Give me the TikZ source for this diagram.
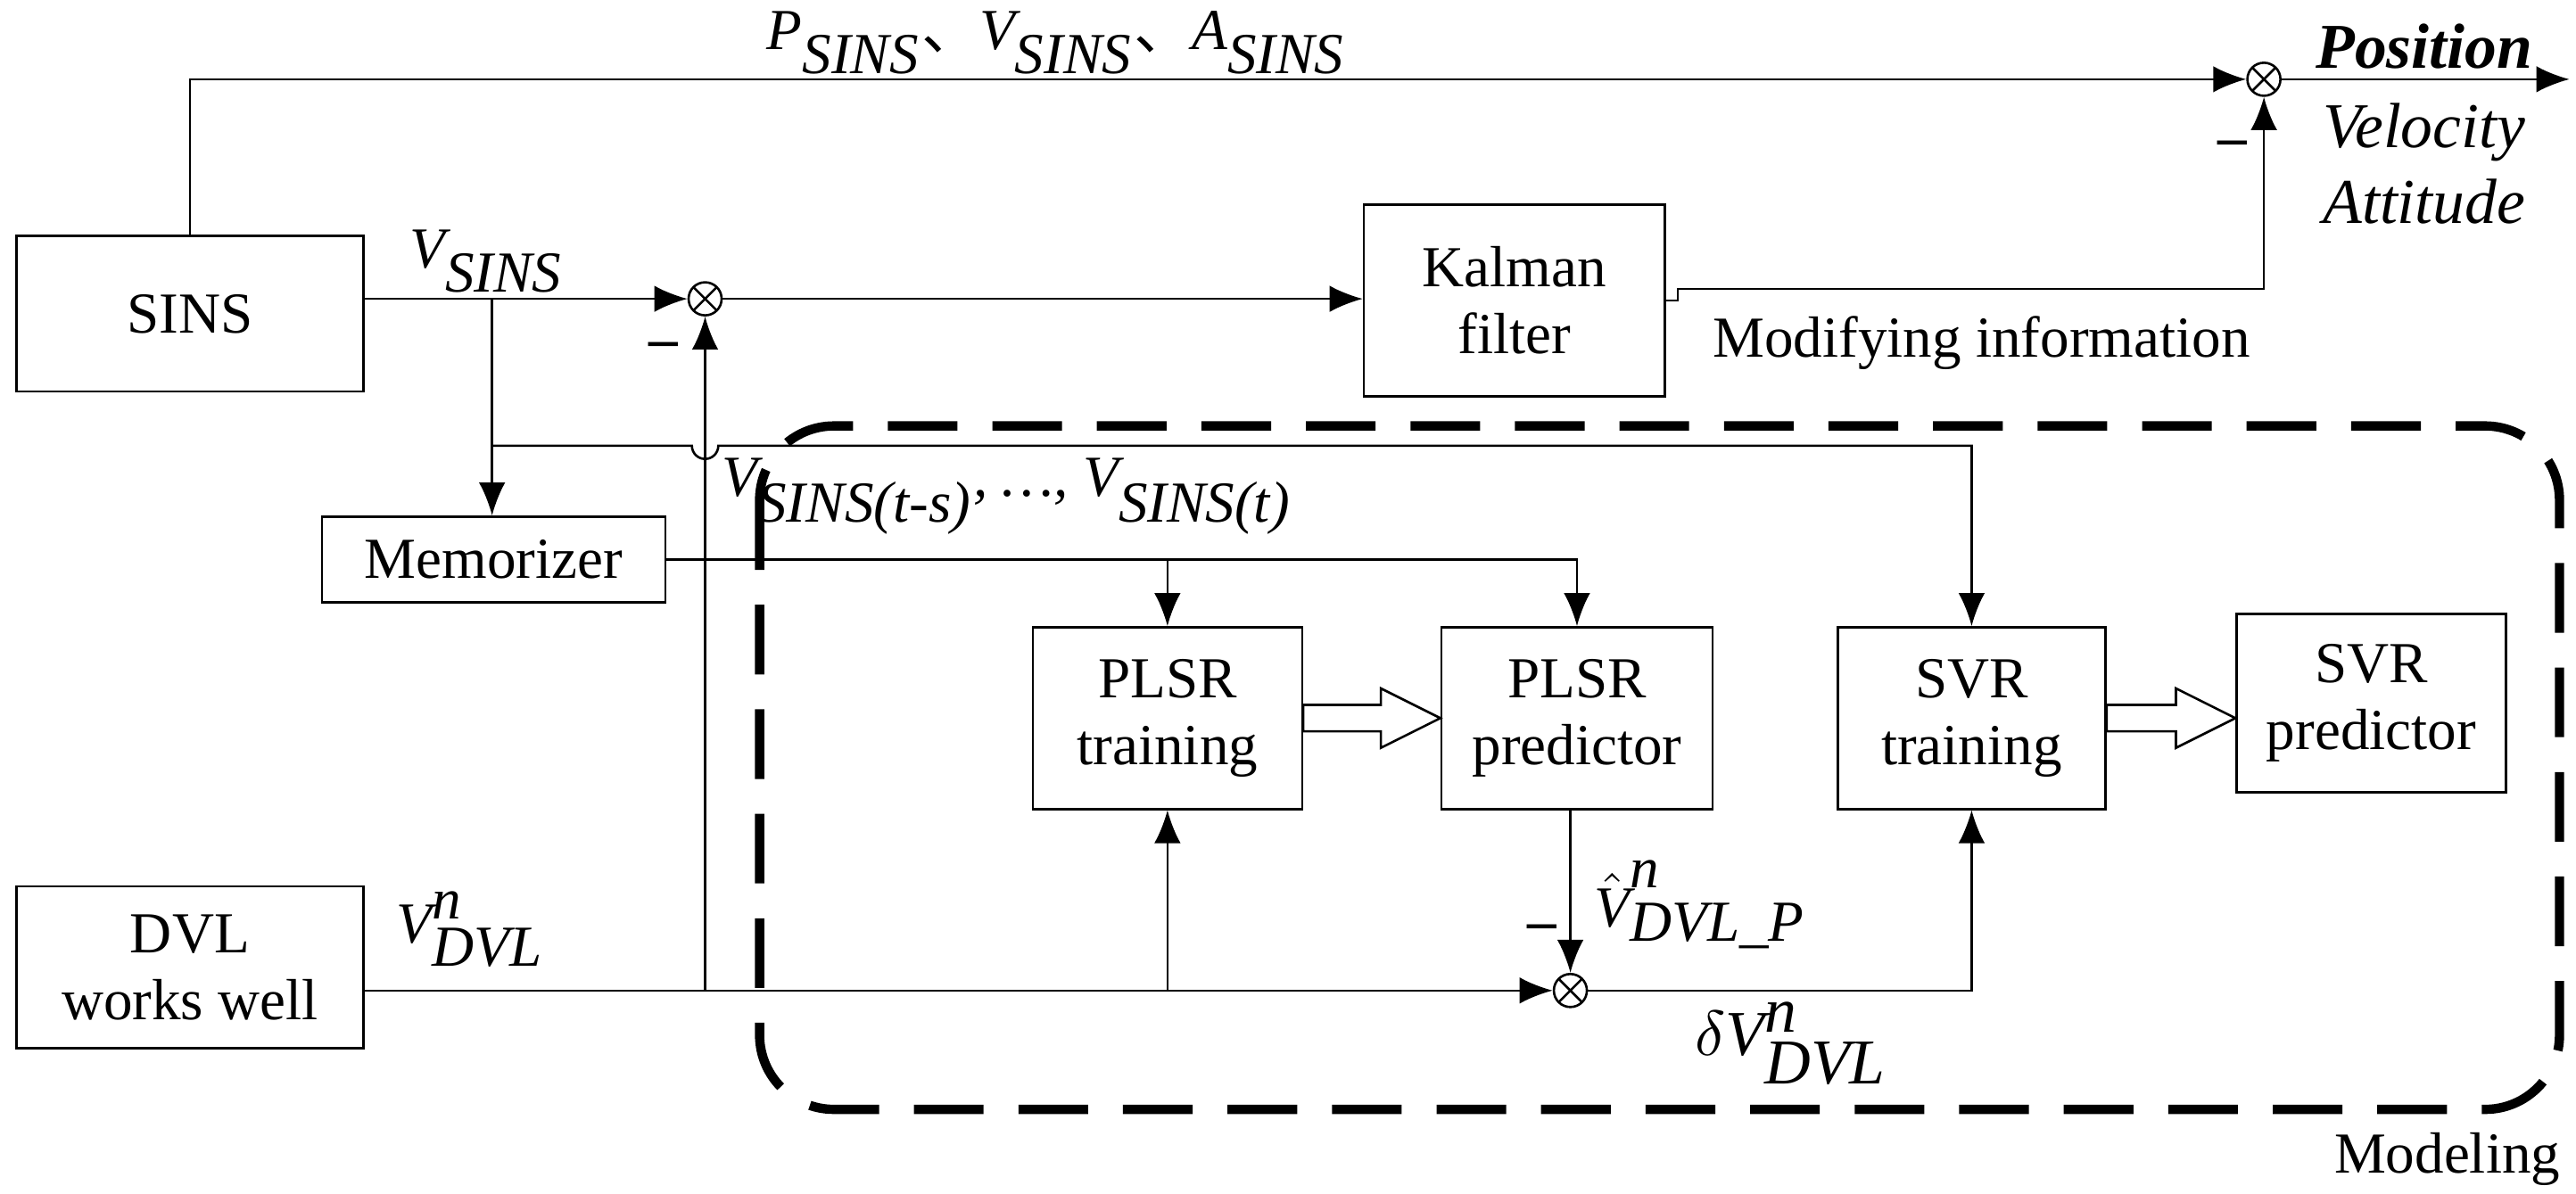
\documentclass[tikz,border=0pt]{standalone}
\usepackage{fontspec}
\setmainfont{Liberation Serif}
\newfontfamily\cjk{Noto Sans CJK SC}
\usetikzlibrary{arrows.meta}
\newcommand{\vsub}[3]{$\textit{#1}^{\textit{#2}}_{\textit{#3}}$}
\begin{document}
\begin{tikzpicture}[x=0.01cm,y=-0.01cm,font=\fontsize{10}{11.5}\selectfont,
    box/.style={draw, align=center, inner sep=0pt},
    sum/.style={draw, circle, minimum size=0.2cm, inner sep=0pt,
        path picture={\draw (path picture bounding box.south west) -- (path picture bounding box.north east)
        (path picture bounding box.north west) -- (path picture bounding box.south east);}},
    arr/.style={-{Latex[length=2mm,width=1.6mm]}},
    lbl/.style={font=\fontsize{10}{11.5}\selectfont\itshape}]
    \useasboundingbox (0,0) rectangle (1560,723);
    %Blöcke
    \node[box, minimum width=2.1cm, minimum height=0.94cm] (sins) at (115,190) {SINS};
    \node[box, minimum width=2.1cm, minimum height=0.98cm] (dvl) at (115,586) {DVL\\works well};
    \node[box, minimum width=2.08cm, minimum height=0.52cm] (mem) at (299,339) {Memorizer};
    \node[box, minimum width=1.82cm, minimum height=1.16cm] (kal) at (917,182) {Kalman\\filter};
    \node[box, minimum width=1.63cm, minimum height=1.1cm] (plt) at (707,435) {PLSR\\training};
    \node[box, minimum width=1.64cm, minimum height=1.1cm] (plp) at (955,435) {PLSR\\predictor};
    \node[box, minimum width=1.62cm, minimum height=1.1cm] (svt) at (1194,435) {SVR\\training};
    \node[box, minimum width=1.63cm, minimum height=1.08cm] (svp) at (1436,426) {SVR\\predictor};
    \node[sum] (s1) at (427,181) {};
    \node[sum] (s2) at (951,600) {};
    \node[sum] (s3) at (1371,48) {};
    %Modellierung
    \draw[dashed, line width=1.6pt, dash pattern=on 12pt off 6pt, rounded corners=0.45cm] (460,258) rectangle (1550,672);
    \node (mod) at (1482,702) {Modeling};
    %SINS
    \coordinate (top) at (115,48);
    \draw[arr] (sins.north) -- (top) -- (s3.west);
    \node[lbl] at (640,26) {\vsub{P}{}{SINS}{\cjk 、}\vsub{V}{}{SINS}{\cjk 、}\vsub{A}{}{SINS}};
    \coordinate (out) at (1556,48);
    \draw[arr] (s3.east) -- (out);
    \node[lbl, font=\fontsize{11}{13}\selectfont\bfseries\itshape] at (1468,28) {Position};
    \node[lbl, font=\fontsize{11}{13}\selectfont\itshape] at (1468,80) {Velocity};
    \node[lbl, font=\fontsize{11}{13}\selectfont\itshape] at (1468,122) {Attitude};
    \draw[arr] (sins.east |- s1) -- (s1.west);
    \node[lbl] at (295,158) {\vsub{V}{}{SINS}};
    \draw[arr] (s1.east) -- (kal.west |- s1);
    \coordinate (kr) at (1016,182);
    \draw[arr] (kal.east) -- (kr) -- (1016,175) -| (s3.south);
    \node at (1200,208) {Modifying information};
    \node at (1352,90) {\textbf{--}};
    %Abzweig SINS
    \coordinate (b1) at (298,181);
    \draw[arr] (b1) -- (mem.north -| b1);
    \draw[arr] (298,270) -- (419,270) arc (180:0:8) -- (1194,270) -- (svt.north);
    %Memorizer
    \draw[arr] (mem.east) -- (955,339) -- (plp.north);
    \draw[arr] (707,339) -- (plt.north);
    \node[lbl, anchor=south] at (610,336) {\vsub{V}{}{SINS(t-s)}, \ldots, \vsub{V}{}{SINS(t)}};
    %DVL
    \draw[arr] (dvl.east |- s2) -- (s2.west);
    \node[lbl] at (285,563) {\vsub{V}{n}{DVL}};
    \draw[arr] (s1 |- s2) -- (s1.south);
    \node at (402,212) {\textbf{--}};
    \draw[arr] (707,600) -- (plt.south);
    \draw[arr] (plp.south -| s2) -- (s2.north);
    \node[lbl] at (1030,548) {$\hat{\textit{V}}^{\textit{n}}_{\textit{DVL\_P}}$};
    \node at (934,565) {\textbf{--}};
    \draw[arr] (s2.east) -- (1194,600) -- (svt.south);
    \node[lbl, font=\fontsize{11}{13}\selectfont\itshape] at (1085,632) {$\delta$\vsub{V}{n}{DVL}};
    %Hohlpfeile
    \foreach \a/\b in {plt/plp, svt/svp}
        \draw[fill=white] ([yshift=-0.08cm]\a.east) -- ([xshift=-0.36cm,yshift=-0.08cm]\b.west |- \a.east)
            -- ([xshift=-0.36cm,yshift=-0.18cm]\b.west |- \a.east) -- (\b.west |- \a.east)
            -- ([xshift=-0.36cm,yshift=0.18cm]\b.west |- \a.east) -- ([xshift=-0.36cm,yshift=0.08cm]\b.west |- \a.east)
            -- ([yshift=0.08cm]\a.east) -- cycle;
\end{tikzpicture}
\end{document}
